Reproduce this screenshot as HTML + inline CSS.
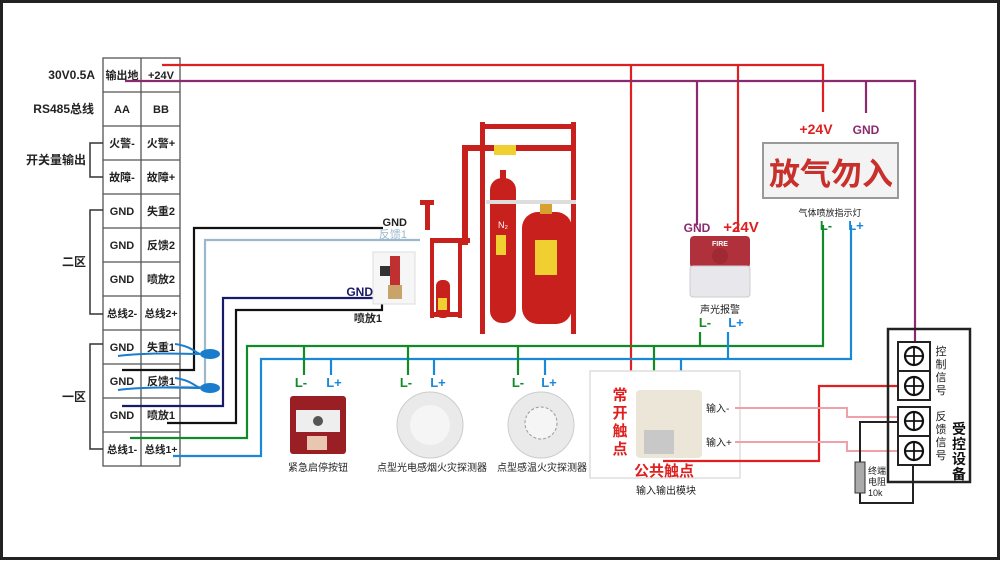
<!DOCTYPE html>
<html><head><meta charset="utf-8"><style>
html,body{margin:0;padding:0;background:#fff}
svg{display:block}
text{font-family:"Liberation Sans","Noto Sans CJK SC",sans-serif;}
</style></head><body>
<svg width="1000" height="561" viewBox="0 0 1000 561" xmlns="http://www.w3.org/2000/svg">
<rect x="1.5" y="1.5" width="997" height="557" fill="#fff" stroke="#222" stroke-width="3"/>

<!-- table -->
<g stroke="#555" stroke-width="1.3" fill="none">
<rect x="103" y="58" width="77" height="408"/>
<line x1="141" y1="58" x2="141" y2="466"/>
<path d="M103 92H180M103 126H180M103 160H180M103 194H180M103 228H180M103 262H180M103 296H180M103 330H180M103 364H180M103 398H180M103 432H180"/>
</g>
<g stroke="#333" stroke-width="1.5" fill="none">
<path d="M103 143H90V177H103"/>
<path d="M103 210H90V314H103"/>
<path d="M103 344H90V449H103"/>
</g>
<g font-size="11" font-weight="bold" fill="#222" text-anchor="middle">
<text x="122" y="79">输出地</text><text x="161" y="79">+24V</text>
<text x="122" y="113">AA</text><text x="161" y="113">BB</text>
<text x="122" y="147">火警-</text><text x="161" y="147">火警+</text>
<text x="122" y="181">故障-</text><text x="161" y="181">故障+</text>
<text x="122" y="215">GND</text><text x="161" y="215">失重2</text>
<text x="122" y="249">GND</text><text x="161" y="249">反馈2</text>
<text x="122" y="283">GND</text><text x="161" y="283">喷放2</text>
<text x="122" y="317" font-size="10.5">总线2-</text><text x="161" y="317" font-size="10.5">总线2+</text>
<text x="122" y="351">GND</text><text x="161" y="351">失重1</text>
<text x="122" y="385">GND</text><text x="161" y="385">反馈1</text>
<text x="122" y="419">GND</text><text x="161" y="419">喷放1</text>
<text x="122" y="453" font-size="10.5">总线1-</text><text x="161" y="453" font-size="10.5">总线1+</text>
</g>
<g font-size="12" font-weight="bold" fill="#222" text-anchor="end">
<text x="95" y="79">30V0.5A</text>
<text x="94" y="113">RS485总线</text>
<text x="86" y="164">开关量输出</text>
<text x="86" y="266">二区</text>
<text x="86" y="401">一区</text>
</g>

<!-- power wires -->
<g fill="none" stroke-width="2.2">
<path d="M162 65H823V112M631 65V440H625M738 65V232" stroke="#e02020"/>
<path d="M125 81H915V345M697 81V225M866 81V113" stroke="#8c2a6e"/>
</g>
<!-- signal wires -->
<g fill="none" stroke-width="2.2">
<path d="M122 370H194V228H383" stroke="#111"/>
<path d="M167 387H205V240H420" stroke="#9bb8cc"/>
<path d="M122 406H223V298H373" stroke="#1a1a6a"/>
<path d="M167 423H236V310H382V302" stroke="#111"/>
<path d="M130 438H247V346H823V225" stroke="#138a2a"/>
<path d="M173 456H261V359H851V225" stroke="#1a88d8"/>
<path d="M304 346V375M408 346V375M518 346V375M654 346V375M700 332V346" stroke="#138a2a"/>
<path d="M331 359V375M434 359V375M545 359V375M681 359V375M728 332V359" stroke="#1a88d8"/>
</g>
<!-- blue swirls -->
<g fill="#1a7ccc">
<ellipse cx="210" cy="354" rx="10" ry="5"/>
<ellipse cx="210" cy="388" rx="10" ry="5"/>
<path d="M118 356C150 352 180 354 200 354M175 344C190 346 195 352 200 354M118 390C150 386 180 388 200 388M175 378C190 380 195 386 200 388" stroke="#1a7ccc" stroke-width="2" fill="none"/>
</g>

<g font-size="11" font-weight="bold" text-anchor="end">
<text x="407" y="226" fill="#222">GND</text>
<text x="407" y="238" fill="#9bb8cc" font-weight="normal">反馈1</text>
<text x="373" y="296" fill="#1a1a6a" font-size="12">GND</text>
<text x="382" y="322" fill="#222">喷放1</text>
</g>

<!-- valve photo -->
<rect x="373" y="252" width="42" height="52" fill="#f6f6f6" stroke="#ddd"/>
<rect x="390" y="256" width="10" height="36" fill="#c03030"/>
<rect x="380" y="266" width="10" height="10" fill="#333"/>
<rect x="388" y="285" width="14" height="14" fill="#c9a46a"/>

<!-- cylinders frame -->
<g fill="#c8201c">
<rect x="480" y="122" width="5" height="212"/>
<rect x="571" y="122" width="5" height="212"/>
<rect x="480" y="124" width="96" height="5"/>
<rect x="462" y="145" width="112" height="6"/>
<rect x="462" y="145" width="6" height="100"/>
<rect x="430" y="238" width="40" height="5"/>
<rect x="430" y="240" width="4" height="78"/>
<rect x="458" y="240" width="4" height="78"/>
<rect x="430" y="312" width="32" height="5"/>
<rect x="420" y="200" width="14" height="5"/>
<rect x="425" y="200" width="5" height="30"/>
<rect x="490" y="178" width="26" height="145" rx="12"/>
<rect x="500" y="170" width="6" height="10"/>
<rect x="522" y="212" width="50" height="112" rx="16"/>
<rect x="540" y="200" width="12" height="14" fill="#d8a030"/>
<rect x="436" y="280" width="14" height="38" rx="6"/>
</g>
<rect x="486" y="200" width="90" height="4" fill="#ddd"/>
<rect x="496" y="235" width="10" height="20" fill="#f0d030"/>
<rect x="535" y="240" width="22" height="35" fill="#f0d030"/>
<rect x="494" y="145" width="22" height="10" fill="#f0d030"/>
<text x="503" y="228" font-size="9" fill="#fff" text-anchor="middle">N₂</text>
<rect x="438" y="298" width="9" height="12" fill="#f0d030"/>

<!-- bottom devices -->
<rect x="290" y="396" width="56" height="58" rx="3" fill="#9a1f24"/>
<rect x="296" y="410" width="44" height="22" fill="#eee"/>
<circle cx="318" cy="421" r="5" fill="#555"/>
<rect x="307" y="436" width="20" height="14" fill="#e8c6b0"/>
<circle cx="430" cy="425" r="33" fill="#eaeaea" stroke="#ccc"/>
<circle cx="430" cy="425" r="20" fill="#f5f5f5"/>
<circle cx="541" cy="425" r="33" fill="#eaeaea" stroke="#ccc"/>
<circle cx="541" cy="423" r="16" fill="#f5f5f5" stroke="#999" stroke-dasharray="3 2"/>
<g font-size="13" font-weight="bold" text-anchor="middle">
<g fill="#138a2a"><text x="301" y="387">L-</text><text x="406" y="387">L-</text><text x="518" y="387">L-</text><text x="655" y="385">L-</text><text x="705" y="327">L-</text><text x="826" y="230">L-</text></g>
<g fill="#1a88d8"><text x="334" y="387">L+</text><text x="438" y="387">L+</text><text x="549" y="387">L+</text><text x="685" y="385">L+</text><text x="736" y="327">L+</text><text x="856" y="230">L+</text></g>
</g>
<g font-size="10" fill="#222" text-anchor="middle">
<text x="318" y="471">紧急启停按钮</text>
<text x="432" y="471">点型光电感烟火灾探测器</text>
<text x="542" y="471">点型感温火灾探测器</text>
</g>

<!-- alarm -->
<rect x="690" y="236" width="60" height="32" rx="4" fill="#b0313c"/>
<rect x="690" y="266" width="60" height="31" rx="3" fill="#e8e8ec" stroke="#ccc"/>
<text x="720" y="246" font-size="7" fill="#fff" text-anchor="middle" font-weight="bold">FIRE</text>
<circle cx="720" cy="256" r="8" fill="#a02a33"/>
<text x="720" y="313" font-size="10" fill="#222" text-anchor="middle">声光报警</text>
<text x="697" y="232" font-size="12" font-weight="bold" fill="#8c2a6e" text-anchor="middle">GND</text>
<text x="741" y="232" font-size="15" font-weight="bold" fill="#e02020" text-anchor="middle">+24V</text>

<!-- sign -->
<rect x="763" y="143" width="135" height="55" fill="#f3f3f3" stroke="#999" stroke-width="2"/>
<text x="831" y="185" font-size="31" font-weight="bold" fill="#c8302c" text-anchor="middle" font-family="'Noto Sans CJK SC',sans-serif">放气勿入</text>
<text x="830" y="216" font-size="9" fill="#222" text-anchor="middle">气体喷放指示灯</text>
<text x="816" y="134" font-size="14" font-weight="bold" fill="#e02020" text-anchor="middle">+24V</text>
<text x="866" y="134" font-size="12" font-weight="bold" fill="#8c2a6e" text-anchor="middle">GND</text>

<!-- module -->
<rect x="590" y="371" width="150" height="107" fill="#fff" stroke="#ddd" stroke-width="1.5"/>
<rect x="636" y="390" width="66" height="68" rx="4" fill="#ebe6d8"/>
<rect x="644" y="430" width="30" height="24" fill="#c8c8c8"/>
<text x="620" y="400" font-size="15" font-weight="bold" fill="#e02020" text-anchor="middle">常</text>
<text x="620" y="418" font-size="15" font-weight="bold" fill="#e02020" text-anchor="middle">开</text>
<text x="620" y="436" font-size="15" font-weight="bold" fill="#e02020" text-anchor="middle">触</text>
<text x="620" y="454" font-size="15" font-weight="bold" fill="#e02020" text-anchor="middle">点</text>
<text x="664" y="476" font-size="15" font-weight="bold" fill="#e02020" text-anchor="middle">公共触点</text>
<text x="666" y="494" font-size="10" fill="#222" text-anchor="middle">输入输出模块</text>
<text x="706" y="412" font-size="10" fill="#222">输入-</text>
<text x="706" y="446" font-size="10" fill="#222">输入+</text>

<!-- module wiring -->
<path d="M663 461H819V386H913" fill="none" stroke="#e02020" stroke-width="2.2"/>
<path d="M735 408H847V417H913M735 442H847V451H913" fill="none" stroke="#f0a0a8" stroke-width="2"/>
<path d="M913 422H860V503H913V450" fill="none" stroke="#222" stroke-width="2"/>
<rect x="855" y="462" width="10" height="31" fill="#aaa" stroke="#333"/>
<text x="868" y="474" font-size="9" fill="#222">终端</text>
<text x="868" y="485" font-size="9" fill="#222">电阻</text>
<text x="868" y="496" font-size="9" fill="#222">10k</text>

<!-- controlled device -->
<rect x="888" y="329" width="82" height="153" fill="none" stroke="#222" stroke-width="2.5"/>
<rect x="898" y="342" width="32" height="58" fill="#fff" stroke="#222" stroke-width="2"/>
<rect x="898" y="407" width="32" height="58" fill="#fff" stroke="#222" stroke-width="2"/>
<path d="M898 371H930M898 436H930" stroke="#222" stroke-width="2"/>
<g fill="#fff" stroke="#111" stroke-width="2.2">
<circle cx="914" cy="356" r="9"/><circle cx="914" cy="386" r="9"/>
<circle cx="914" cy="421" r="9"/><circle cx="914" cy="451" r="9"/>
</g>
<path d="M905 356H923M914 347V365M905 386H923M914 377V395M905 421H923M914 412V430M905 451H923M914 442V460" stroke="#111" stroke-width="1.8"/>
<g font-size="11" fill="#222" text-anchor="middle">
<text x="941" y="355">控</text><text x="941" y="368">制</text><text x="941" y="381">信</text><text x="941" y="394">号</text>
<text x="941" y="420">反</text><text x="941" y="433">馈</text><text x="941" y="446">信</text><text x="941" y="459">号</text>
</g>
<g font-size="14" font-weight="bold" fill="#111" text-anchor="middle">
<text x="959" y="434">受</text><text x="959" y="449">控</text><text x="959" y="464">设</text><text x="959" y="479">备</text>
</g>
</svg>
</body></html>
